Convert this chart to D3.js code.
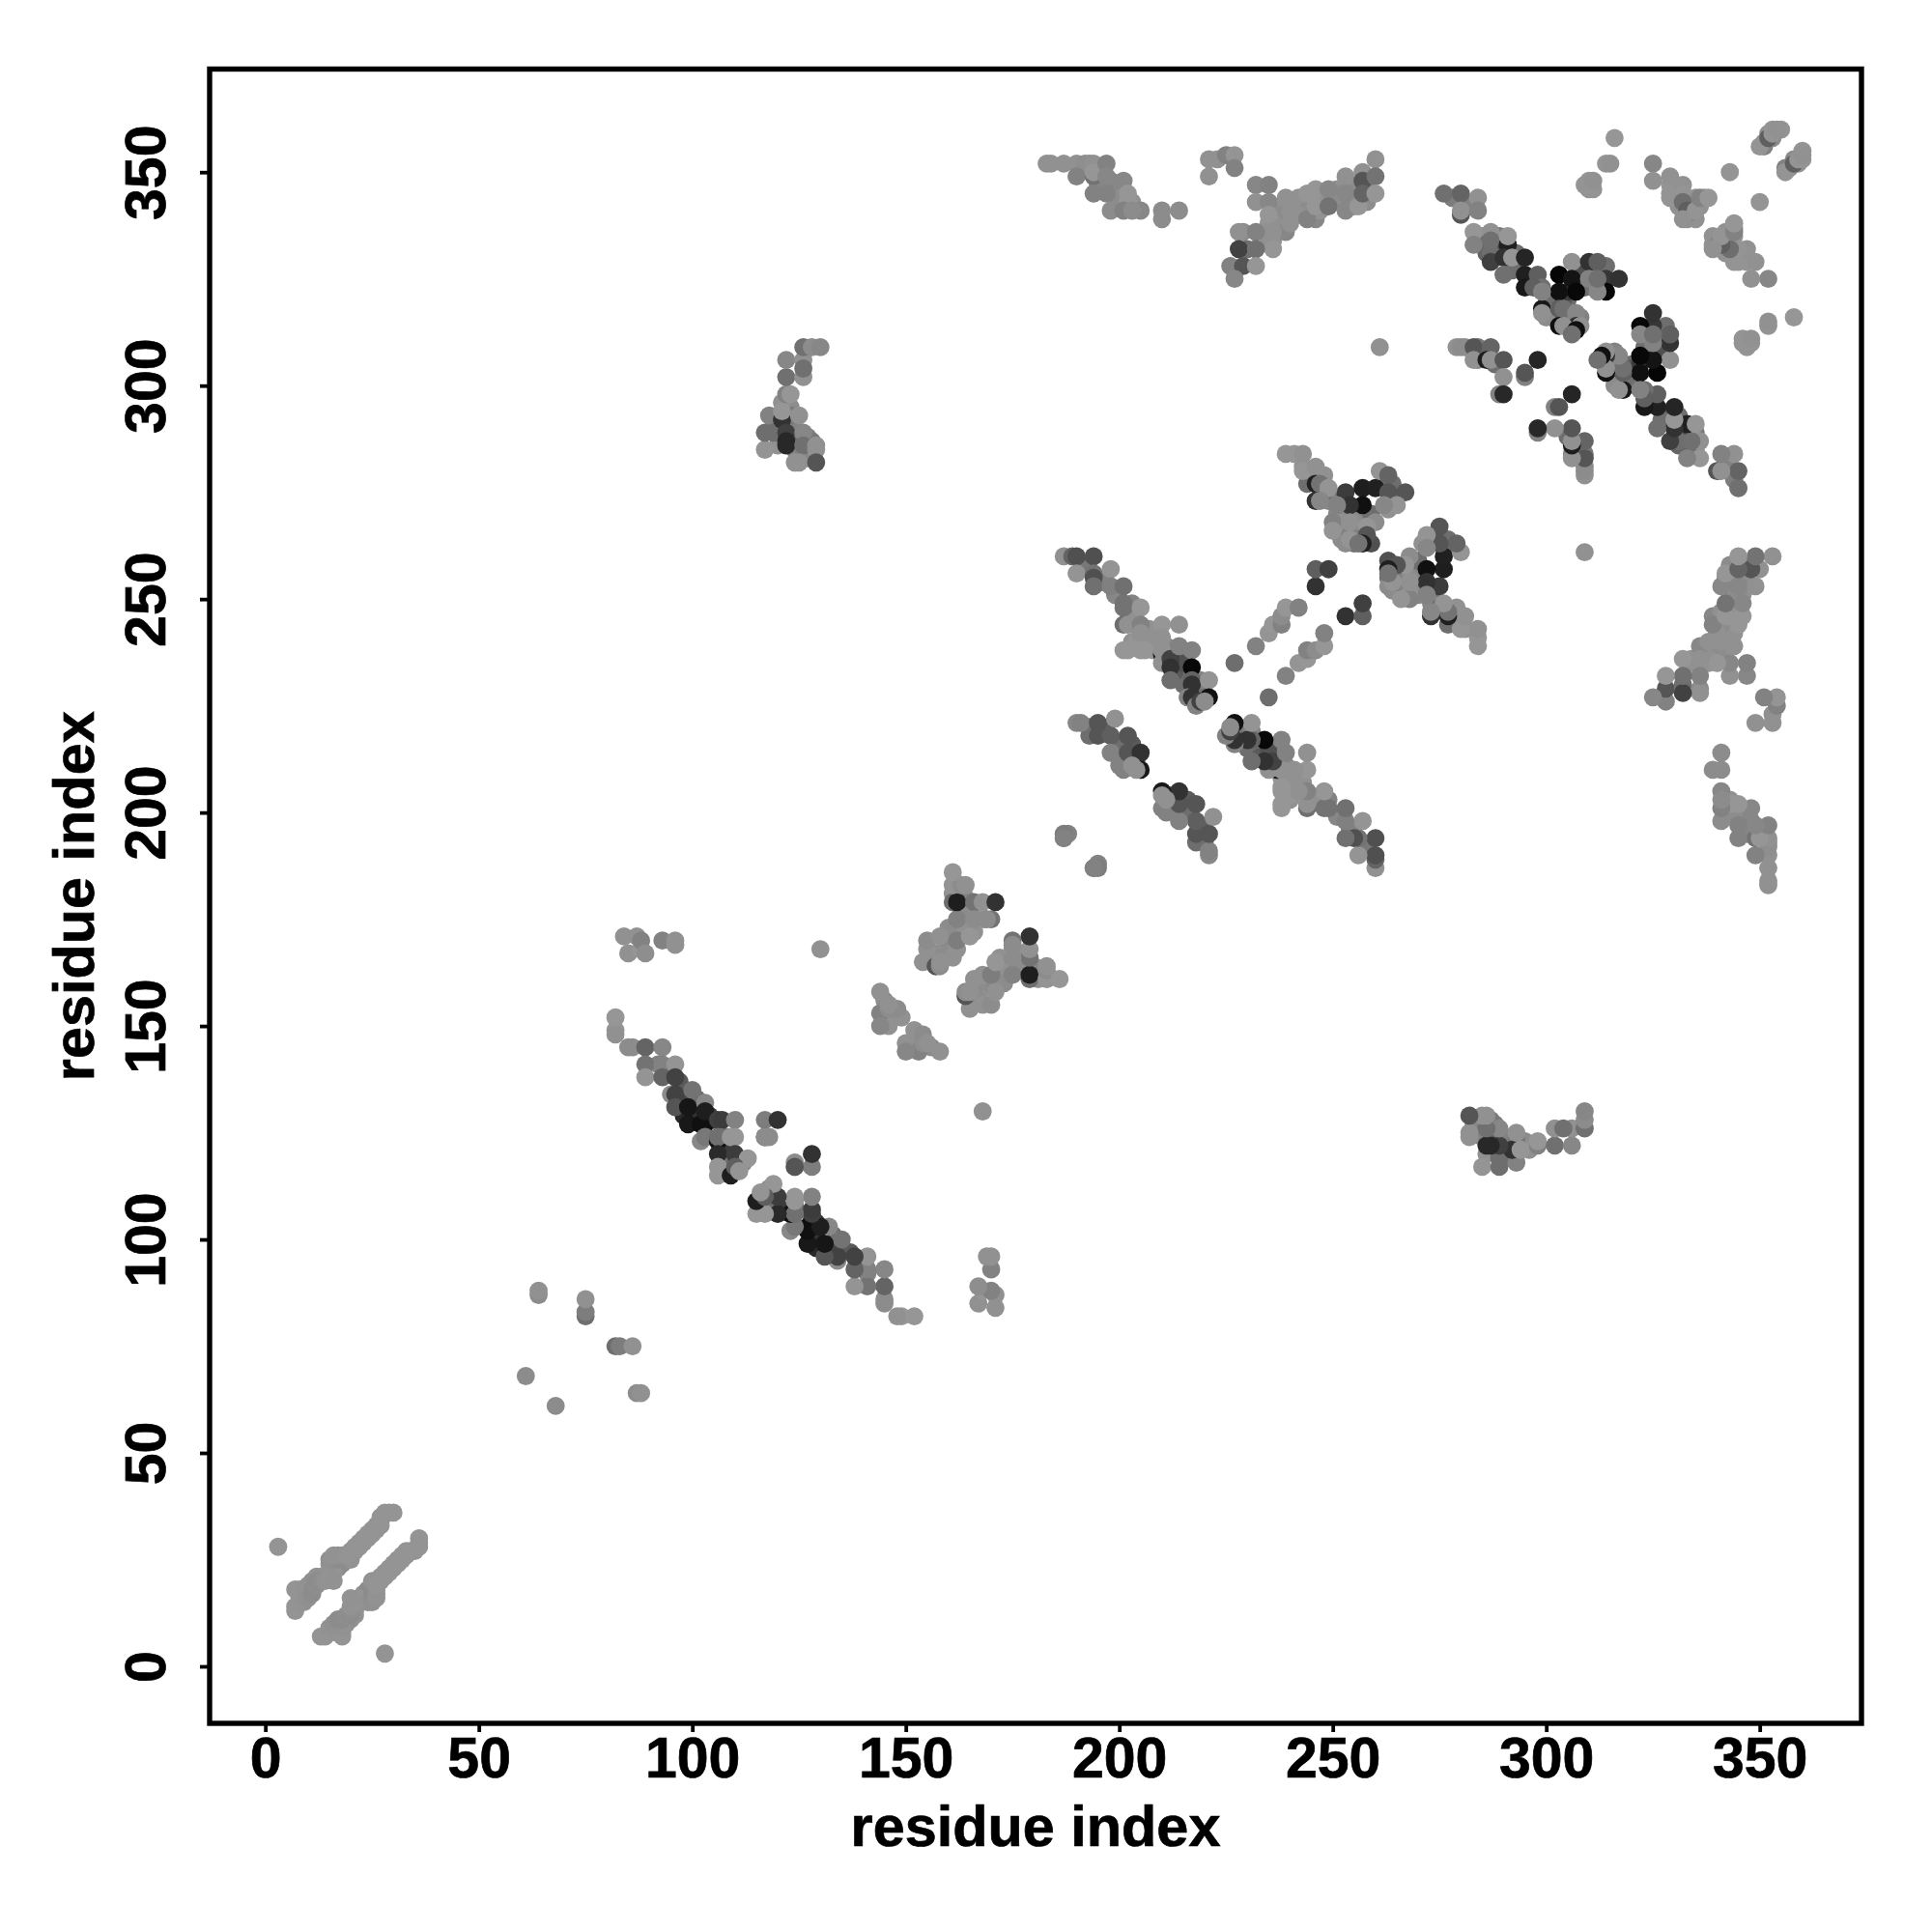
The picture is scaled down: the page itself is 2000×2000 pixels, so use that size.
<!DOCTYPE html>
<html><head><meta charset="utf-8"><script src="https://cdn.jsdelivr.net/npm/d3@7"></script>
<style>html,body{margin:0;background:#fff}svg{display:block}text{font-family:"Liberation Sans",Arial,sans-serif;font-weight:bold;fill:#000;stroke:#000;stroke-width:.7px}</style></head>
<body><svg id="c" width="2000" height="2000"></svg>
<script>
// Contact map: each row is [residue i, residue j, gray level]; the map is symmetric, so (j,i) holds the same contact.
const hairpinN=[[3,28,148],[7,13,148],[7,14,148],[7,18,148],[8,18,148],[9,15,146],[9,18,146],[10,16,144],[11,17,140],[11,18,140],[12,19,142],[12,20,140],[13,20,142],[14,20,146],[15,21,148],[16,22,148],[16,20,146],[15,24,146],[15,25,144],[16,25,144],[17,25,140],[17,26,144],[18,26,144],[16,26,146],[19,26,148],[20,27,148],[21,28,148],[22,29,148],[23,30,148],[24,31,148],[25,32,148],[26,33,148],[27,34,148],[27,35,148],[28,36,148],[29,36,148],[30,36,148]];
const hairpinFill=[[20,26,148],[21,27,148],[22,28,148],[23,29,148],[24,30,148],[25,31,148],[26,32,148],[27,33,148],[16,23,144],[17,23,142],[18,24,140],[19,25,142],[20,25,146],[10,18,144],[10,19,144],[11,19,138],[11,20,142],[12,21,146],[13,21,146],[8,15,146],[8,16,146]];
const loopB=[[61,68,140],[64,87,140],[64,88,145],[75,82,110],[75,83,125],[75,86,145],[84,171,145],[85,167,145],[87,171,145],[88,168,150],[88,170,130],[89,167,142],[93,170,130],[96,169,145],[96,170,145],[130,168,145]];
const sheetC=[[82,152,150],[82,149,150],[82,148,145],[85,145,140],[86,145,140],[89,145,100],[93,145,135],[89,141,115],[89,138,148],[93,141,130],[96,141,148],[93,138,100],[96,138,66],[95,134,140],[96,134,66],[96,131,85],[100,135,115],[99,131,22],[99,127,24],[102,127,16],[103,127,16],[103,132,135],[103,130,30],[106,128,64],[107,128,60],[110,128,130],[102,123,135],[103,124,120],[106,123,16],[106,124,112],[109,124,150],[110,124,150],[106,120,42],[110,120,60],[113,119,150],[106,117,150],[106,115,150],[109,115,30],[110,117,95],[111,116,148],[117,128,125],[120,128,50],[117,124,85],[124,117,140],[124,118,140]];
const sheetD=[[144,158,145],[144,153,130],[144,150,135],[148,154,140],[146,154,140],[146,155,145],[154,165,145],[155,170,140],[157,164,85],[158,164,140],[158,165,145],[158,171,145],[162,168,145],[162,170,125],[162,175,130],[165,171,150],[161,179,110],[162,179,30],[166,179,115],[168,179,145],[171,179,50],[168,175,148],[170,175,115],[166,175,140],[161,183,148],[163,183,140],[164,183,145],[161,186,150],[169,175,140],[187,194,130],[188,195,130],[187,195,125]];
const sheetE=[[187,260,145],[189,260,100],[190,260,80],[194,260,80],[190,256,148],[194,256,115],[194,255,80],[198,257,148],[194,253,112],[198,253,128],[201,253,112],[201,249,115],[201,248,115],[205,248,150],[201,244,110],[202,244,145],[205,244,130],[205,242,145],[210,244,150],[214,244,145],[210,241,145],[201,238,150],[202,238,150],[205,238,150],[206,238,150],[210,237,30],[210,238,145],[210,235,145],[212,236,66],[212,234,50],[212,231,110],[214,239,130],[217,238,130],[217,234,8],[217,231,100],[217,230,50],[221,231,148],[216,227,130],[217,227,50],[218,225,130],[219,226,66],[221,227,16],[220,226,140]];
const sheetF=[[190,221,135],[191,221,130],[195,221,85],[199,222,145],[195,218,85],[198,218,95],[202,218,85],[198,214,130],[202,214,85],[205,214,50],[201,210,130],[205,210,24],[203,211,145],[204,210,145],[187,194,130]];
const strandG=[[227,235,110],[232,239,130],[235,242,148],[236,244,150],[238,244,130],[238,246,140],[239,248,150],[242,248,130],[246,253,50],[246,257,95],[249,257,64]];
const sheetH=[[239,284,150],[241,284,150],[243,284,145],[243,281,145],[243,280,150],[246,281,145],[246,277,32],[247,277,115],[249,276,148],[246,273,50],[247,273,135],[257,276,30],[260,276,32],[261,280,148],[263,279,100],[263,275,85],[263,271,145],[267,275,85],[265,272,148],[262,272,135],[257,272,16],[254,272,50],[251,272,130],[250,268,130],[250,266,148],[254,265,130],[254,268,145],[258,267,150],[258,265,85],[257,263,32],[254,264,148],[256,263,115]];
const farI=[[183,352,145],[184,352,145],[187,352,145],[190,352,145],[192,352,142],[193,352,142],[194,352,145],[190,349,130],[194,349,115],[194,350,150],[197,352,130],[197,349,135],[194,345,130],[197,345,130],[201,348,135],[202,345,150],[202,343,150],[198,341,140],[201,341,130],[205,341,135],[203,341,140],[210,341,140],[210,339,140],[214,341,140],[221,353,145],[221,349,145],[223,353,145],[225,354,130],[227,354,148],[227,351,130],[232,347,135],[235,347,130],[232,343,145],[235,343,135],[239,344,145],[239,336,135],[235,340,150],[236,336,145],[236,332,150],[228,336,145],[232,336,130],[228,332,66],[232,332,112],[226,328,130],[229,328,85],[232,328,150],[227,325,135],[240,341,145],[240,338,145],[242,340,145],[244,339,130],[244,345,150],[246,346,150],[246,342,150],[249,346,135],[249,342,115],[253,349,145],[253,345,135],[253,341,135],[256,342,150],[257,350,145],[257,348,85],[257,345,100],[260,353,145],[260,349,115],[260,345,150]];
const sheetJ=[[276,345,112],[280,345,100],[280,340,85],[280,341,145],[284,344,145],[284,341,130],[283,336,150],[287,336,145],[283,333,130],[287,334,112],[291,333,32],[291,335,150],[287,329,64],[290,330,50],[290,326,112],[292,330,150],[295,330,37],[295,326,32],[295,323,24],[298,326,95],[299,323,112],[297,323,95],[303,326,5],[306,329,145],[306,325,20],[307,322,8],[303,322,16],[310,329,50],[312,329,95],[310,325,130],[314,325,55],[317,325,50],[314,322,8],[312,322,135],[312,325,112],[299,318,24],[299,317,145],[303,318,95],[304,318,112],[307,317,135],[307,314,50],[308,314,145],[303,314,16],[304,314,145],[307,313,16],[306,312,112],[299,322,130]];
const sheetK=[[279,309,145],[280,309,140],[283,309,85],[287,309,100],[283,306,145],[286,306,30],[287,306,145],[290,306,85],[290,302,145],[289,298,130],[290,298,40],[298,306,37],[295,302,130],[295,303,85],[261,309,145]];
const nearL=[[309,347,148],[310,346,148],[310,348,148],[311,348,145],[314,352,148],[315,352,145],[316,358,150],[325,352,135],[325,348,145],[329,349,145],[329,345,148],[329,344,148],[332,347,145],[332,345,148],[332,343,110],[333,340,135],[333,341,95],[335,341,148],[332,339,145],[336,344,130],[338,344,150],[343,350,148],[350,356,148],[352,358,95],[353,359,148],[353,360,148],[354,360,145]];
const sheetM=[[117,285,148],[117,289,110],[118,293,130],[119,289,110],[121,292,50],[121,294,150],[122,289,64],[122,287,40],[122,286,40],[124,282,145],[122,298,130],[123,298,150],[122,302,112],[126,302,145],[122,306,135],[126,306,145],[126,304,112],[126,309,112],[128,309,140],[130,309,135],[125,293,145],[126,289,135],[126,286,112],[129,286,145],[129,285,145],[125,282,145],[129,282,85]];
// weaker contacts that sit underneath the clusters
const weakCD=[[92,141,130],[97,137,90],[98,133,70],[101,133,110],[104,129,60],[105,128,80],[108,124,110],[107,121,60],[108,118,120],[107,116,145],[110,119,110],[112,118,140],[101,130,50],[98,129,40],[163,177,135],[164,176,140],[164,180,140],[165,177,140],[167,177,145],[163,172,135],[160,173,140],[160,171,140],[159,168,135],[157,167,145],[156,167,140],[160,167,140],[161,166,145],[164,173,145],[166,172,145],[155,168,145],[161,181,145],[163,181,130],[145,156,140],[145,152,140],[147,152,145],[146,150,145],[149,152,145]];
const weakEF=[[192,258,120],[196,254,130],[199,251,135],[203,246,145],[203,249,130],[203,240,145],[204,240,150],[208,238,150],[211,239,135],[213,236,90],[215,233,70],[214,232,80],[215,230,110],[216,232,110],[219,229,110],[219,231,130],[213,233,90],[215,235,80],[207,243,145],[207,240,145],[193,220,110],[197,219,90],[200,216,90],[203,216,90],[204,212,100],[200,215,110],[196,220,95],[193,218,110],[201,212,135],[203,213,110],[200,211,130]];
const weakH=[[251,270,135],[252,269,135],[255,270,120],[252,266,135],[256,266,130],[255,267,140],[252,274,110],[253,275,60],[249,273,135],[248,275,110],[245,279,140],[244,277,110],[248,279,145],[256,270,130],[259,270,110],[260,268,140],[256,265,110],[259,263,80],[255,263,110],[264,277,110],[262,277,120],[264,274,130],[263,273,135],[251,266,140],[252,264,140],[253,263,140],[252,268,145],[255,268,140]];
const weakI=[[237,341,145],[238,340,140],[238,338,140],[241,340,145],[241,342,145],[242,344,145],[243,342,145],[244,341,140],[245,340,140],[246,339,135],[247,341,145],[248,344,140],[247,345,145],[251,346,145],[251,343,140],[252,345,140],[254,347,140],[255,345,140],[255,342,140],[235,338,148],[235,334,145],[236,338,145],[236,334,145],[229,336,140],[230,332,110],[258,347,125],[258,343,140],[195,347,135],[196,350,140],[198,348,135],[199,346,135],[199,344,140],[200,344,140],[195,351,145],[196,346,135],[203,343,145]];
const weakJ=[[288,332,90],[285,335,140],[289,335,120],[285,333,110],[289,331,70],[293,328,90],[292,327,110],[300,321,120],[301,320,120],[302,319,110],[301,317,130],[305,315,135],[305,317,120],[306,315,125],[305,320,110],[304,320,90],[302,316,110],[308,316,130],[309,323,110],[308,326,80],[305,322,60],[306,317,130],[300,316,140],[313,327,130],[311,326,120],[314,328,110],[312,323,110],[286,331,100],[287,331,110],[293,331,110],[281,343,120],[282,342,130],[278,344,125],[284,309,120],[285,308,125],[288,305,110],[281,309,140],[285,307,110],[284,306,130]];
const weakLM=[[329,347,148],[330,346,148],[331,345,148],[331,342,145],[334,341,148],[334,343,145],[335,344,148],[337,344,145],[336,342,145],[332,341,145],[333,343,145],[330,344,145],[333,339,145],[334,340,145],[335,339,145],[351,357,148],[352,359,145],[355,360,148],[351,356,130],[353,358,140],[310,347,148],[311,346,148],[119,292,130],[120,290,120],[123,287,100],[120,286,145],[124,290,120],[123,291,130],[123,295,140],[123,293,120],[121,296,145],[124,285,130],[127,283,135],[128,284,135],[127,288,130],[128,287,120]];
const allContacts=[hairpinFill,weakCD,weakEF,weakH,weakI,weakJ,weakLM,hairpinN,loopB,sheetC,sheetD,sheetE,sheetF,strandG,sheetH,farI,sheetJ,sheetK,nearL,sheetM].flat();
const tickValues=[0,50,100,150,200,250,300,350];
const axisTitle="residue index";

const L=217,R=1927,T=71.5,B=1784;
const x=d3.scaleLinear().domain([-13.05,373.83]).range([L,R]);
const y=d3.scaleLinear().domain([-13.35,374.15]).range([B,T]);
const svg=d3.select("#c");
const pts=svg.append("g");
const draw=(rows,fx,fy)=>pts.selectAll(null).data(rows).enter().append("circle")
  .attr("cx",fx).attr("cy",fy).attr("r",9.4).attr("fill",d=>d3.rgb(d[2],d[2],d[2]).formatHex());
draw(allContacts,d=>x(d[0]),d=>y(d[1]));
draw(allContacts,d=>x(d[1]),d=>y(d[0]));

const gx=svg.append("g").attr("transform",`translate(0,${B})`).call(d3.axisBottom(x).tickValues(tickValues).tickSize(9).tickPadding(5));
const gy=svg.append("g").attr("transform",`translate(${L},0)`).call(d3.axisLeft(y).tickValues(tickValues).tickSize(10));
[gx,gy].forEach(g=>{g.select(".domain").remove();g.selectAll("line").attr("stroke","#000").attr("stroke-width",3.8);g.selectAll("text").attr("font-size",59).attr("font-family",'"Liberation Sans"').attr("font-weight","bold");});
gy.selectAll("text").attr("x",0).attr("y",0).attr("dy",0).attr("text-anchor","middle").attr("transform","translate(-46,0) rotate(-90)");
svg.append("rect").attr("x",L).attr("y",T).attr("width",R-L).attr("height",B-T).attr("fill","none").attr("stroke","#000").attr("stroke-width",5.4);
svg.append("text").attr("x",(L+R)/2).attr("y",1911).attr("text-anchor","middle").attr("font-size",59.4).text(axisTitle);
svg.append("text").attr("transform",`translate(97,${(T+B)/2}) rotate(-90)`).attr("text-anchor","middle").attr("font-size",59.4).text(axisTitle);
</script></body></html>
